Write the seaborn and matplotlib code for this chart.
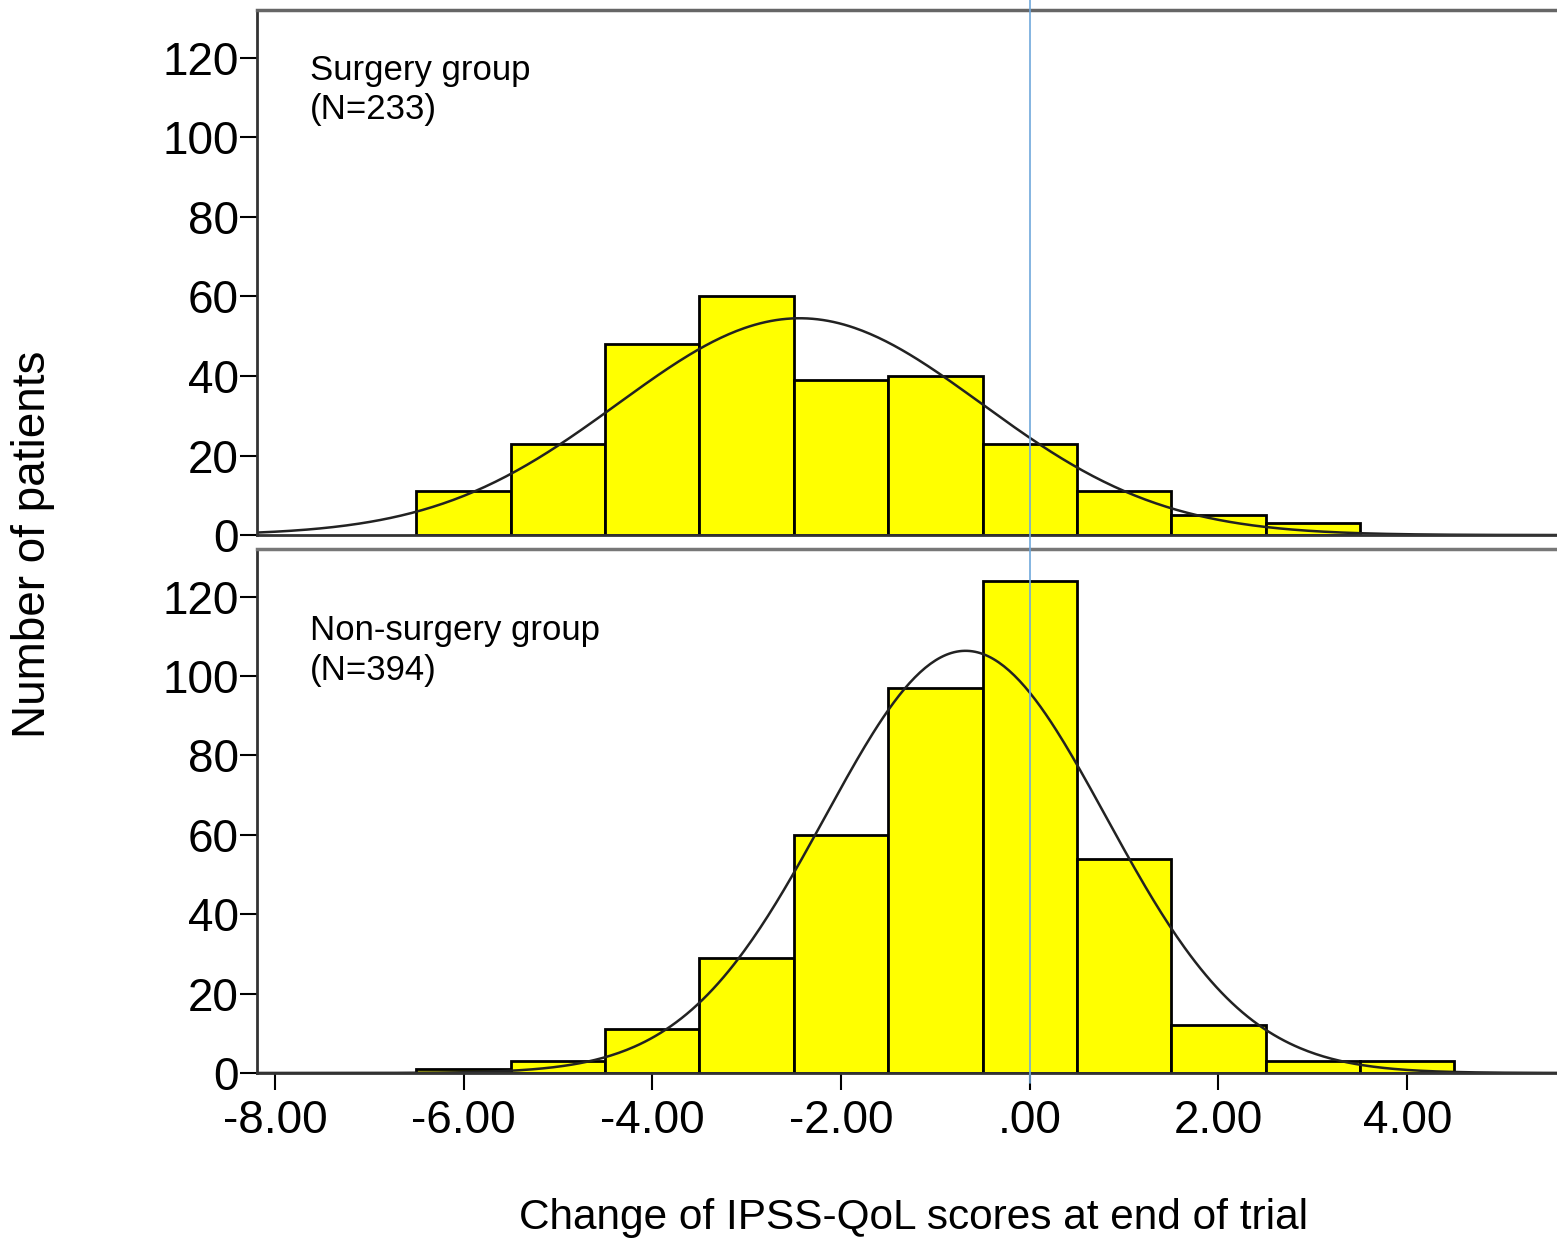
import numpy as np
import pandas as pd
import matplotlib
matplotlib.use("Agg")
import matplotlib.pyplot as plt
import matplotlib.transforms as mtransforms
from matplotlib.lines import Line2D
from matplotlib.ticker import FuncFormatter
import seaborn as sns

# histogram bins (width 1, centred on integers) and counts
surgery_centers = [-6, -5, -4, -3, -2, -1, 0, 1, 2, 3]
surgery_counts = [11, 23, 48, 60, 39, 40, 23, 11, 5, 3]
nonsurgery_centers = [-6, -5, -4, -3, -2, -1, 0, 1, 2, 3, 4]
nonsurgery_counts = [1, 3, 11, 29, 60, 97, 124, 54, 12, 3, 3]

group_labels = ["Surgery group\n(N=233)", "Non-surgery group\n(N=394)"]
x_ticks = [-8, -6, -4, -2, 0, 2, 4]
y_ticks = [0, 20, 40, 60, 80, 100, 120]

XLIM = (-8.19, 5.67)
YLIM = (0, 132)


def setup_style():
    sns.set_theme(style="white")
    plt.rcParams.update({
        "font.family": ["Liberation Sans", "DejaVu Sans"],
        "text.color": "black",
        "axes.labelcolor": "black",
        "xtick.color": "black",
        "ytick.color": "black",
        "axes.edgecolor": "#333333",
        "axes.linewidth": 2.0,
    })


def fmt_tick(v, pos):
    s = f"{v:.2f}"
    if s.startswith("0"):
        s = s[1:]
    return s


def draw_panel(ax, centers, counts, label, label_y):
    df = pd.DataFrame({"change": np.asarray(centers, dtype=float),
                       "count": np.asarray(counts, dtype=float)})
    edges = [c - 0.5 for c in centers] + [centers[-1] + 0.5]

    sns.histplot(data=df, x="change", weights="count", bins=edges, ax=ax,
                 color="#FFFF00", edgecolor="black", linewidth=2.0, alpha=1)

    # normal curve fitted to the binned data (as SPSS draws it)
    c = df["change"].values
    w = df["count"].values
    n = w.sum()
    mean = (c * w).sum() / n
    sd = np.sqrt((w * (c - mean) ** 2).sum() / (n - 1))
    xs = np.linspace(XLIM[0], XLIM[1], 500)
    ys = n / (sd * np.sqrt(2 * np.pi)) * np.exp(-0.5 * ((xs - mean) / sd) ** 2)
    sns.lineplot(x=xs, y=ys, ax=ax, color="#222222", linewidth=1.8)

    ax.text(-7.63, label_y, label, fontsize=25, va="top", ha="left",
            linespacing=1.25, color="black")

    ax.set_xlim(*XLIM)
    ax.set_ylim(*YLIM)
    ax.set_yticks(y_ticks)
    ax.set_ylabel("")
    ax.set_xlabel("")
    ax.tick_params(axis="y", direction="out", length=12, width=1.5,
                   labelsize=33, pad=1, left=True)
    ax.spines["right"].set_visible(False)


def main():
    setup_style()
    fig = plt.figure(figsize=(15.57, 12.42), dpi=100)
    ax1 = fig.add_axes([0.165, 0.5692, 0.84, 0.4227])
    ax2 = fig.add_axes([0.165, 0.1361, 0.84, 0.4219])

    draw_panel(ax1, surgery_centers, surgery_counts, group_labels[0], 121)
    draw_panel(ax2, nonsurgery_centers, nonsurgery_counts, group_labels[1], 115.5)

    ax1.set_xticks([])
    ax1.spines["top"].set_color("#666666")
    ax1.spines["top"].set_linewidth(2.5)
    ax2.spines["top"].set_color("#777777")
    ax2.spines["top"].set_linewidth(2.5)

    ax2.set_xticks(x_ticks)
    ax2.xaxis.set_major_formatter(FuncFormatter(fmt_tick))
    ax2.tick_params(axis="x", direction="out", length=12, width=1.5,
                    labelsize=33, pad=7, bottom=True)

    # reference line at zero, running through both panels
    trans = mtransforms.blended_transform_factory(ax2.transData, fig.transFigure)
    fig.add_artist(Line2D([0, 0], [0.128, 1.0], transform=trans,
                          color="#6FA8DC", linewidth=1.2, zorder=5))

    fig.text(0.021, 0.562, "Number of patients", rotation=90, fontsize=33,
             ha="center", va="center")
    fig.text(0.5867, 0.019, "Change of IPSS-QoL scores at end of trial",
             fontsize=30.5, ha="center", va="center")

    fig.savefig("out.png", dpi=100)


if __name__ == "__main__":
    main()
